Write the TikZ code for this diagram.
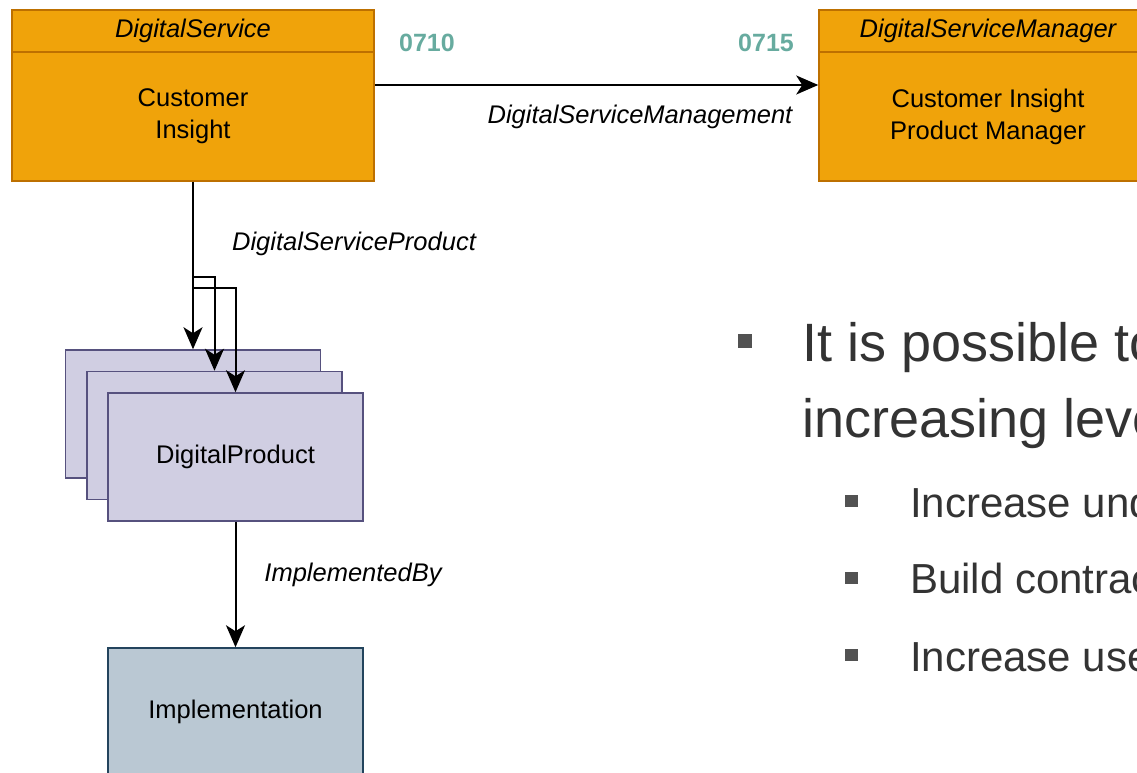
\documentclass[tikz,border=0pt]{standalone}
\usepackage{fontspec}
\setmainfont{Liberation Sans}
\usetikzlibrary{arrows.meta}
\definecolor{svcfill}{HTML}{F0A30A}
\definecolor{svcline}{HTML}{BD7000}
\definecolor{prodfill}{HTML}{D0CEE2}
\definecolor{prodline}{HTML}{56517E}
\definecolor{implfill}{HTML}{BAC8D3}
\definecolor{implline}{HTML}{23445D}
\definecolor{cardteal}{HTML}{67AB9F}
\definecolor{slidetext}{HTML}{333333}
\begin{document}
\begin{tikzpicture}[x=1pt,y=-1pt,
  svc/.style={draw=svcline,fill=svcfill,line width=1.5pt,inner sep=0pt,align=center,
    font=\fontsize{25.5}{32}\selectfont},
  prod/.style={draw=prodline,fill=prodfill,line width=1.5pt,minimum width=255pt,
    minimum height=128pt,font=\fontsize{25.5}{32}\selectfont},
  impl/.style={draw=implline,fill=implfill,line width=1.5pt,minimum width=255pt,
    minimum height=128pt,font=\fontsize{25.5}{32}\selectfont},
  conn/.style={draw,line width=2pt,-{Stealth[length=22pt,width=19pt,inset=6pt]}},
  rel/.style={font=\fontsize{25.5}{30}\selectfont\itshape},
  card/.style={text=cardteal,font=\fontsize{25}{30}\selectfont\bfseries},
  dot/.style={fill=slidetext!85,inner sep=0pt}]
\path[use as bounding box] (0,0) rectangle (1137,773);
\clip (0,0) rectangle (1137,773);

\node[svc,minimum width=362pt,minimum height=42pt,font=\fontsize{25.5}{32}\selectfont\itshape] (dshead) at (193,31) {DigitalService};
\node[svc,minimum width=362pt,minimum height=129pt] (ds) at (193,116.5) {Customer\\Insight};
\node[svc,minimum width=338pt,minimum height=42pt,font=\fontsize{25.5}{32}\selectfont\itshape] (dsmhead) at (988,31) {DigitalServiceManager};
\node[svc,minimum width=338pt,minimum height=129pt] (dsm) at (988,116.5) {Customer Insight\\Product Manager};

\node[prod] (p1) at (193,414) {};
\node[prod] (p2) at (214.5,435.5) {};
\node[prod] (p3) at (235.5,457) {DigitalProduct};

\node[impl] (impl) at (235.5,712) {Implementation};

\path[conn] ([yshift=31.5pt]ds.east) -- ([yshift=31.5pt]dsm.west);
\path[conn] (ds.south) -- (p1.north);
\path[conn] (ds.south) -- ++(0,95) -| (p2.north);
\path[conn] (ds.south) -- ++(0,106) -| (p3.north);
\path[conn] (p3.south) -- (impl.north);

\node[card] (srccard) at (427,43) {0710};
\node[card] (dstcard) at (766,43) {0715};
\node[rel] (mgmt) at (640,117) {DigitalServiceManagement};
\node[rel] (dsprod) at (354,244) {DigitalServiceProduct};
\node[rel] (implby) at (353,575) {ImplementedBy};

% slide text behind the diagram
\node[dot,minimum width=14pt,minimum height=14pt] (b0) at (745,340.5) {};
\node[anchor=base west,inner sep=0pt,text=slidetext,font=\fontsize{54}{60}\selectfont] (t0) at (802,361) {It is possible to};
\node[anchor=base west,inner sep=0pt,text=slidetext,font=\fontsize{54}{60}\selectfont] (t1) at (802,437) {increasing level};
\node[dot,minimum width=13pt,minimum height=12pt] (b1) at (851.5,501) {};
\node[dot,minimum width=13pt,minimum height=12pt] (b2) at (851.5,578) {};
\node[dot,minimum width=13pt,minimum height=12pt] (b3) at (851.5,655) {};
\node[anchor=base west,inner sep=0pt,text=slidetext,font=\fontsize{42}{48}\selectfont] (s1) at (910,517) {Increase und};
\node[anchor=base west,inner sep=0pt,text=slidetext,font=\fontsize{42}{48}\selectfont] (s2) at (910,593) {Build contrac};
\node[anchor=base west,inner sep=0pt,text=slidetext,font=\fontsize{42}{48}\selectfont] (s3) at (910,671) {Increase use};
\end{tikzpicture}
\end{document}
